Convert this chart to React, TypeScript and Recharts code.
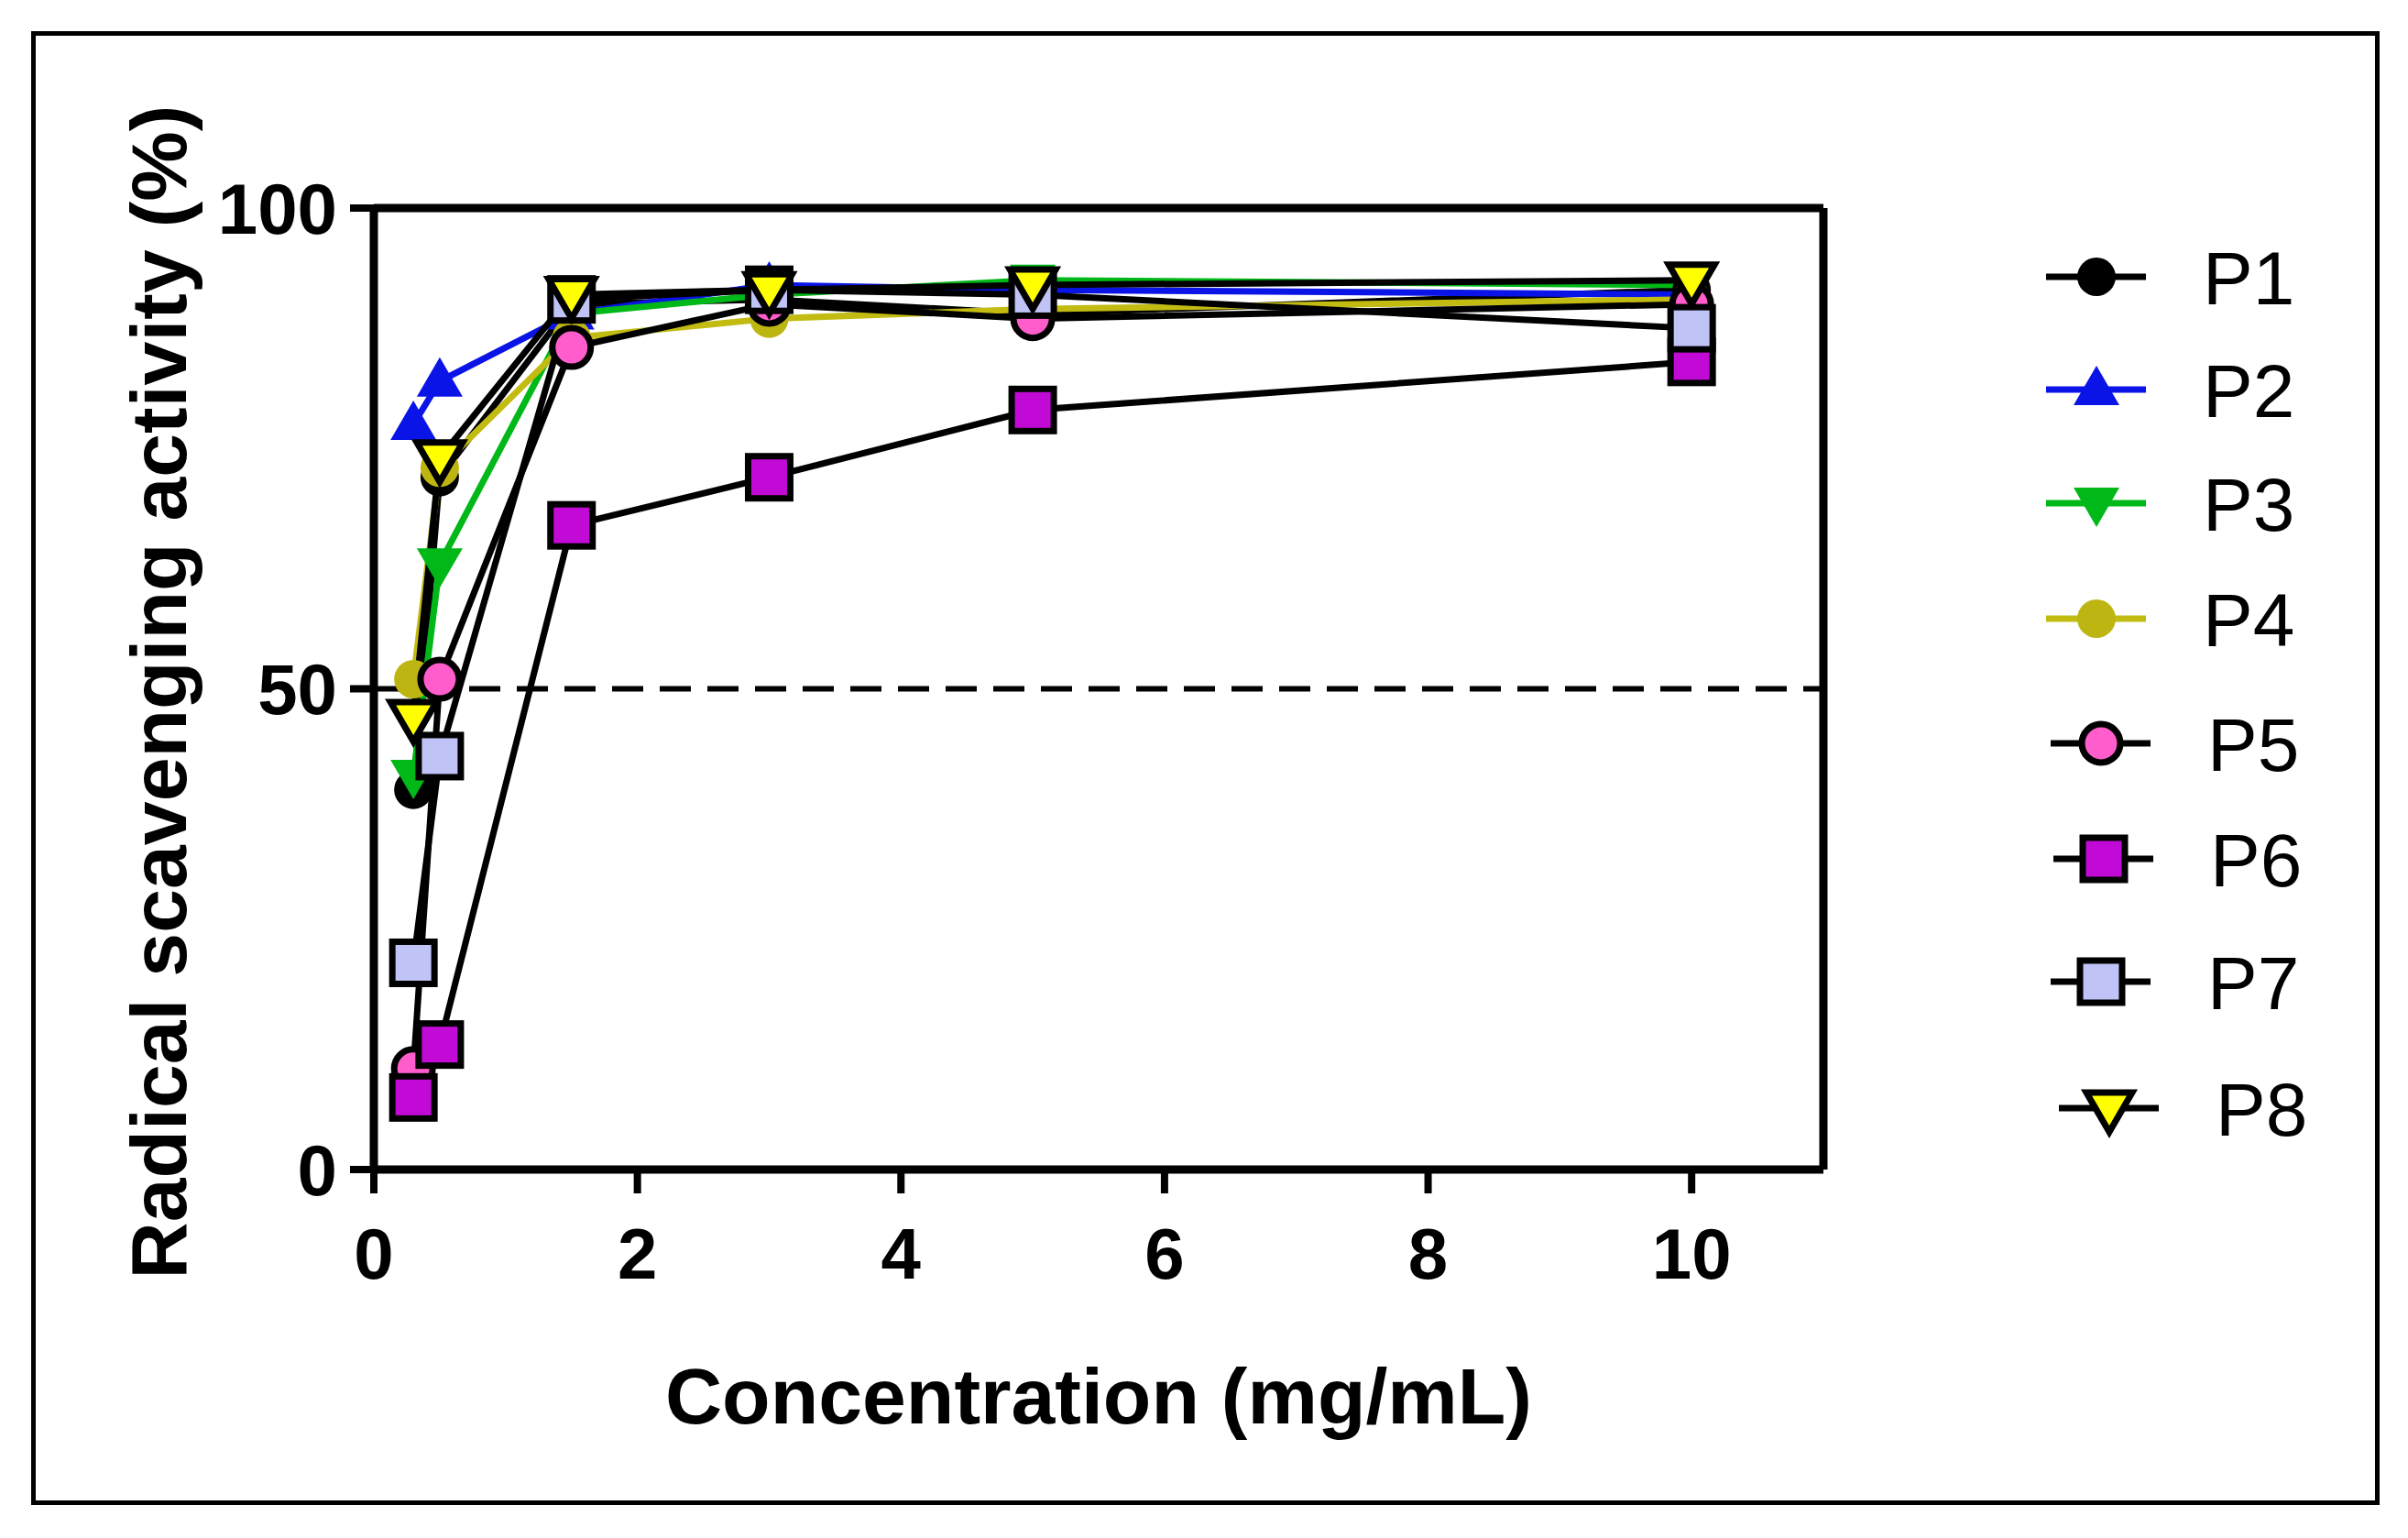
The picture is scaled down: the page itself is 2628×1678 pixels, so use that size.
import React from 'react';
import { LineChart, Line, XAxis, YAxis, ReferenceLine } from 'recharts';

const W = 2628;
const H = 1678;

// concentrations (mg/mL)
const concentrations = [0.3, 0.5, 1.5, 3, 5, 10];

// radical scavenging activity (%) per sample
const P1 = [39.5, 72, 90, 90.5, 89, 91.5];
const P2 = [77.5, 82, 89, 92, 91.5, 91];
const P3 = [41, 63, 89, 91, 92.5, 92];
const P4 = [51, 73, 86.5, 88.5, 89.5, 90.5];
const P5 = [10.5, 51, 85.5, 90, 88.5, 90];
const P6 = [7.5, 13, 67, 72, 79, 84];
const P7 = [21.5, 43, 90.5, 91.5, 91, 87.5];
const P8 = [47, 74, 91, 91.5, 92, 92.5];

const xTicks = [0, 2, 4, 6, 8, 10];
const yTicks = [0, 50, 100];

type Shape = 'circle' | 'triangleUp' | 'triangleDown' | 'square';

interface SeriesDef {
  name: string;
  values: number[];
  line: string;
  shape: Shape;
  fill: string;
  stroke: string;
}

const SERIES: SeriesDef[] = [
  { name: 'P1', values: P1, line: '#000000', shape: 'circle', fill: '#000000', stroke: 'none' },
  { name: 'P2', values: P2, line: '#0a14e6', shape: 'triangleUp', fill: '#0a14e6', stroke: 'none' },
  { name: 'P3', values: P3, line: '#00b818', shape: 'triangleDown', fill: '#00b818', stroke: 'none' },
  { name: 'P4', values: P4, line: '#c2bb12', shape: 'circle', fill: '#bdb612', stroke: 'none' },
  { name: 'P5', values: P5, line: '#000000', shape: 'circle', fill: '#ff5ccc', stroke: '#000000' },
  { name: 'P6', values: P6, line: '#000000', shape: 'square', fill: '#c20ad6', stroke: '#000000' },
  { name: 'P7', values: P7, line: '#000000', shape: 'square', fill: '#c0c3f5', stroke: '#000000' },
  { name: 'P8', values: P8, line: '#000000', shape: 'triangleDown', fill: '#ffff00', stroke: '#000000' },
];

const rows = concentrations.map((x, i) => {
  const row: Record<string, number> = { x };
  SERIES.forEach(s => { row[s.name] = s.values[i]; });
  return row;
});

// legend rows: y position and small x shift of the symbol
const legendY = [302, 425, 549, 675, 811, 937, 1071, 1209];
const legendShift = [0, 0, 0, 0, 5, 8, 5, 14];

const Marker = ({ cx, cy, shape, fill, stroke }: { cx: number; cy: number; shape: Shape; fill: string; stroke: string }) => {
  const sw = stroke === 'none' ? 0 : 7;
  if (shape === 'circle') {
    return <circle cx={cx} cy={cy} r={21} fill={fill} stroke={stroke} strokeWidth={sw} />;
  }
  if (shape === 'square') {
    return <rect x={cx - 23} y={cy - 23} width={46} height={46} fill={fill} stroke={stroke} strokeWidth={sw} />;
  }
  if (shape === 'triangleUp') {
    const p = `${cx},${cy - 26} ${cx - 25},${cy + 17} ${cx + 25},${cy + 17}`;
    return <polygon points={p} fill={fill} stroke={stroke} strokeWidth={sw} strokeLinejoin="miter" />;
  }
  const p = `${cx},${cy + 26} ${cx - 25},${cy - 17} ${cx + 25},${cy - 17}`;
  return <polygon points={p} fill={fill} stroke={stroke} strokeWidth={sw} strokeLinejoin="miter" />;
};

const FONT = '"Liberation Sans", Arial, Helvetica, sans-serif';

export default function App() {
  return (
    <div style={{ position: 'absolute', left: 0, top: 0, width: W, height: H, background: '#fff', fontFamily: FONT }}>
      <div
        style={{
          position: 'absolute', left: 34, top: 34, width: 2563, height: 1608,
          border: '5px solid #000', boxSizing: 'border-box',
        }}
      />
      <div style={{ position: 'absolute', left: 0, top: 0 }}>
        <LineChart
          width={W}
          height={H}
          data={rows}
          margin={{ top: 227, right: 638, bottom: 252, left: 208 }}
        >
          <XAxis
            type="number"
            dataKey="x"
            domain={[0, 11]}
            ticks={xTicks}
            height={150}
            axisLine={{ stroke: '#000', strokeWidth: 9 }}
            tickLine={{ stroke: '#000', strokeWidth: 8 }}
            tickSize={26}
            tickMargin={38}
            tick={{ fill: '#000', fontSize: 78, fontWeight: 700, fontFamily: FONT }}
          />
          <YAxis
            type="number"
            domain={[0, 100]}
            ticks={yTicks}
            width={200}
            axisLine={{ stroke: '#000', strokeWidth: 9 }}
            tickLine={{ stroke: '#000', strokeWidth: 8 }}
            tickSize={26}
            tickMargin={14}
            tick={{ fill: '#000', fontSize: 78, fontWeight: 700, fontFamily: FONT }}
          />
          <ReferenceLine y={100} stroke="#000" strokeWidth={9} />
          <ReferenceLine x={11} stroke="#000" strokeWidth={9} />
          <ReferenceLine y={50} stroke="#000" strokeWidth={6} strokeDasharray="34 18" />
          {SERIES.map(s => (
            <Line
              key={s.name}
              type="linear"
              dataKey={s.name}
              stroke={s.line}
              strokeWidth={7}
              isAnimationActive={false}
              dot={(p: any) => (
                <Marker key={`${s.name}-${p.index}`} cx={p.cx} cy={p.cy} shape={s.shape} fill={s.fill} stroke={s.stroke} />
              )}
              activeDot={false}
            />
          ))}
        </LineChart>
      </div>

      <div
        style={{
          position: 'absolute', left: 173, top: 755, transform: 'translate(-50%, -50%) rotate(-90deg)',
          whiteSpace: 'nowrap', fontSize: 86, fontWeight: 700, color: '#000', lineHeight: 1,
        }}
      >
        Radical scavenging activity (%)
      </div>
      <div
        style={{
          position: 'absolute', left: 1199, top: 1523, transform: 'translate(-50%, -50%)',
          whiteSpace: 'nowrap', fontSize: 86, fontWeight: 700, color: '#000', lineHeight: 1,
        }}
      >
        Concentration (mg/mL)
      </div>

      <svg style={{ position: 'absolute', left: 0, top: 0 }} width={W} height={H}>
        {SERIES.map((s, i) => (
          <g key={s.name}>
            <line
              x1={2233 + legendShift[i]} x2={2342 + legendShift[i]}
              y1={legendY[i]} y2={legendY[i]}
              stroke={s.line} strokeWidth={7}
            />
            <Marker cx={2288 + legendShift[i]} cy={legendY[i]} shape={s.shape} fill={s.fill} stroke={s.stroke} />
            <text x={2404 + legendShift[i]} y={legendY[i]} dy="0.36em" fontSize={82} fontFamily={FONT} fill="#000">{s.name}</text>
          </g>
        ))}
      </svg>
    </div>
  );
}
